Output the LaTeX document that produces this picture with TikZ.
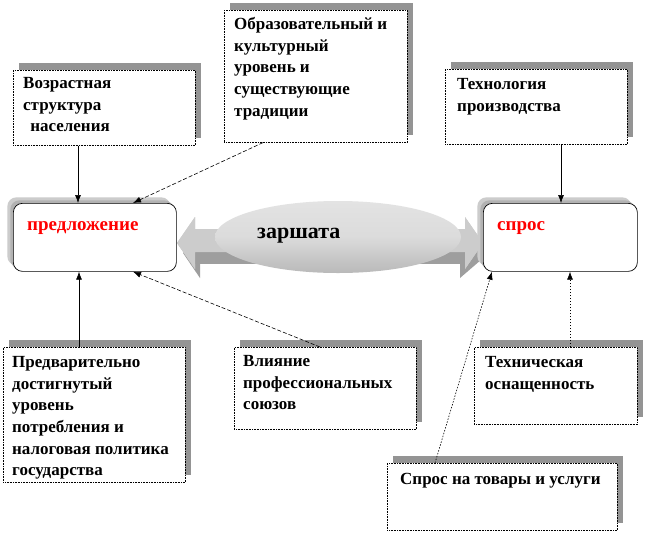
\documentclass[tikz,border=0pt]{standalone}
\usepackage{fontspec}
\setmainfont{Liberation Serif}
\usetikzlibrary{shadows,calc,shapes.geometric,arrows.meta}
\definecolor{shd}{gray}{0.58}
\definecolor{lgr}{gray}{0.8}
\definecolor{mgr}{gray}{0.62}
\tikzset{
  fbox/.style={draw, densely dotted, line width=0.6pt, fill=white, anchor=north west,
    inner sep=0pt, general shadow={fill=shd, shadow xshift=6pt, shadow yshift=7pt}},
  ftext/.style={anchor=north west, align=left, inner sep=0pt,
    font=\bfseries\fontsize{17}{21.7}\selectfont},
  rbox/.style={draw, line width=0.7pt, fill=white, anchor=north west, inner sep=0pt,
    rounded corners=9pt,
    general shadow={fill=lgr, shadow xshift=-6pt, shadow yshift=6pt},
    general shadow={fill=gray!60, shadow xshift=-3pt, shadow yshift=3pt}},
  rtext/.style={anchor=base west, inner sep=0pt, text=red,
    font=\bfseries\fontsize{19}{22}\selectfont},
  arr/.style={-{Latex[length=8pt,width=6pt]}, line width=0.6pt},
  darr/.style={arr, dash pattern=on 4pt off 2pt},
  dotarr/.style={arr, dash pattern=on 1.5pt off 1.5pt}
}
\begin{document}
\begin{tikzpicture}[x=1pt,y=-1pt]
\useasboundingbox[fill=white] (0,0) rectangle (647,533);

% double arrow with shadow
\fill[mgr] (183,253) -- (200,229) -- (200,239) -- (460,239) -- (460,229) -- (489,253)
  -- (460,278) -- (460,262) -- (200,262) -- (200,278) -- cycle;
\fill[lgr] (177,243) -- (195,217) -- (195,229) -- (465,229) -- (465,217) -- (483,243)
  -- (465,269) -- (465,252) -- (195,252) -- (195,269) -- cycle;
\fill[mgr] (190,252) rectangle (465,264);
\fill[lgr] (177,243) -- (195,217) -- (195,229) -- (465,229) -- (465,217) -- (483,243)
  -- (465,269) -- (465,252) -- (195,252) -- (195,269) -- cycle;

% ellipse
\node[ellipse, minimum width=246pt, minimum height=72pt, inner sep=0pt,
  top color=gray!22, bottom color=gray!55, middle color=gray!28] (el) at (338,237) {};
\node[anchor=base west, inner sep=0pt, font=\bfseries\fontsize{22}{24}\selectfont]
  (zt) at ([shift={(-81,1)}]el.center) {заршата};

% rounded boxes
\node[rbox, minimum width=163pt, minimum height=68pt] (pr) at (13,203) {};
\node[rtext] (prt) at ([shift={(14,27)}]pr.north west) {предложение};
\node[rbox, minimum width=154pt, minimum height=68pt] (sp) at (483,203) {};
\node[rtext] (spt) at ([shift={(14,27)}]sp.north west) {спрос};

% factor boxes
\node[fbox, minimum width=182pt, minimum height=75pt] (b1) at (13,70) {};
\node[ftext] (t1) at ([shift={(10,7)}]b1.north west) {Возрастная\\структура\\\ \,населения};

\node[fbox, minimum width=183pt, minimum height=132pt] (b2) at (224,10) {};
\node[ftext] (t2) at ([shift={(10,7)}]b2.north west) {Образовательный и\\культурный\\уровень и\\существующие\\традиции};

\node[fbox, minimum width=182pt, minimum height=75pt] (b3) at (445,69) {};
\node[ftext] (t3) at ([shift={(12,9)}]b3.north west) {Технология\\производства};

\node[fbox, minimum width=182pt, minimum height=135pt] (b6) at (3,347) {};
\node[ftext] (t6) at ([shift={(9,9)}]b6.north west) {Предварительно\\достигнутый\\уровень\\потребления и\\налоговая политика\\государства};

\node[fbox, minimum width=182pt, minimum height=82pt] (b7) at (234,347) {};
\node[ftext] (t7) at ([shift={(9,8)}]b7.north west) {Влияние\\профессиональных\\союзов};

\node[fbox, minimum width=163pt, minimum height=77pt] (b8) at (474,347) {};
\node[ftext] (t8) at ([shift={(11,9)}]b8.north west) {Техническая\\оснащенность};

\node[fbox, minimum width=230pt, minimum height=67pt] (b9) at (387,463) {};
\node[ftext] (t9) at ([shift={(13,10)}]b9.north west) {Спрос на товары и услуги};

% connectors
\draw[arr] ([xshift=65pt]b1.south west) -- ([xshift=65pt]pr.north west);
\draw[darr] ([xshift=39pt]b2.south west) -- ([xshift=120pt]pr.north west);
\draw[arr] ([xshift=116pt]b3.south west) -- ([xshift=78pt]sp.north west);
\draw[arr] ([xshift=76pt]b6.north west) -- ([xshift=66pt]pr.south west);
\draw[darr] ([xshift=86pt]b7.north west) -- ([xshift=120pt]pr.south west);
\draw[dotarr] ([xshift=96pt]b8.north west) -- ([xshift=87pt]sp.south west);
\draw[dotarr] ([xshift=48pt]b9.north west) -- ([xshift=9pt]sp.south west);
\end{tikzpicture}
\end{document}
